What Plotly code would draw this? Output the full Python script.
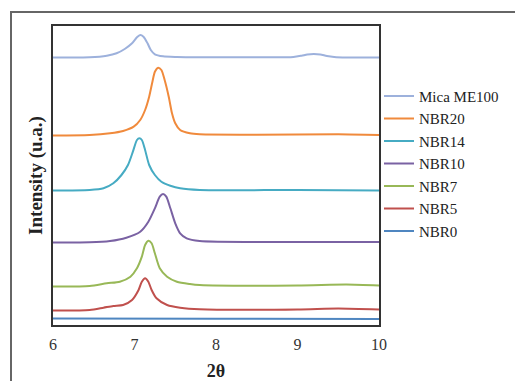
import plotly.graph_objects as go

# ---- data (2θ vs intensity, arbitrary units) ----
mica_x = [6.0, 6.3, 6.45, 6.66, 6.78, 6.88, 6.97, 7.03, 7.07, 7.11, 7.16, 7.2, 7.25, 7.35, 7.52, 7.8, 8.5, 8.95, 9.05, 9.12, 9.2, 9.28, 9.36, 9.45, 9.6, 10.0]
mica_y = [267.5, 267.5, 267.7, 269.3, 271.7, 276, 281.7, 287.7, 290, 288.3, 281.7, 275, 270.7, 268.7, 268, 267.7, 267.7, 268, 269.3, 270.5, 271, 270.5, 269, 268, 267.5, 267.5]

nbr20_x = [6.0, 6.45, 6.7, 6.86, 6.99, 7.07, 7.13, 7.18, 7.22, 7.25, 7.29, 7.33, 7.37, 7.42, 7.46, 7.5, 7.56, 7.68, 7.8, 8.5, 9.5, 10.0]
nbr20_y = [189.5, 190, 191.7, 194, 198.3, 205, 215, 228.3, 243.3, 253.3, 257.3, 255, 245, 228.3, 211.7, 201.7, 195, 191.7, 190.7, 190.3, 190.7, 190]

nbr14_x = [6.0, 6.45, 6.62, 6.74, 6.84, 6.92, 6.98, 7.03, 7.06, 7.09, 7.13, 7.18, 7.25, 7.33, 7.44, 7.56, 7.8, 9.0, 10.0]
nbr14_y = [134.5, 135, 136.7, 141.7, 150, 160, 173.3, 185, 186.7, 185, 175, 160, 150, 143.3, 139.3, 136.7, 135, 135, 134.5]

nbr10_x = [6.0, 6.45, 6.7, 6.9, 7.07, 7.17, 7.25, 7.31, 7.35, 7.39, 7.44, 7.5, 7.56, 7.64, 7.8, 9.0, 10.0]
nbr10_y = [82.5, 82.7, 84, 87.3, 93.3, 103.3, 116.7, 128.3, 131, 128.3, 116.7, 101.7, 91.7, 86.7, 84, 83, 83]

nbr7_x = [6.0, 6.45, 6.66, 6.82, 6.95, 7.03, 7.09, 7.13, 7.17, 7.21, 7.25, 7.31, 7.4, 7.52, 7.68, 7.8, 9.0, 9.6, 10.0]
nbr7_y = [38.5, 39, 41.7, 43.3, 48.3, 56.7, 68.3, 80, 84.3, 81.7, 71.7, 56.7, 48.3, 43.3, 41, 40, 39.5, 40.5, 39.5]

nbr5_x = [6.0, 6.45, 6.62, 6.74, 6.86, 6.97, 7.05, 7.09, 7.13, 7.17, 7.21, 7.27, 7.4, 7.56, 7.8, 9.0, 9.5, 10.0]
nbr5_y = [14.5, 15, 17.3, 19, 20, 25, 35, 43.3, 46.7, 43.3, 35, 26.7, 20, 17.3, 15.7, 15.5, 16.5, 15.5]

nbr0_x = [6.0, 8.0, 10.0]
nbr0_y = [6.5, 6.2, 6.0]

series = [
    ("Mica ME100", mica_x, mica_y, "#9db1dc"),
    ("NBR20", nbr20_x, nbr20_y, "#f08a3c"),
    ("NBR14", nbr14_x, nbr14_y, "#46abc3"),
    ("NBR10", nbr10_x, nbr10_y, "#7a62a3"),
    ("NBR7", nbr7_x, nbr7_y, "#98b857"),
    ("NBR5", nbr5_x, nbr5_y, "#c0504d"),
    ("NBR0", nbr0_x, nbr0_y, "#4f86c0"),
]

x_ticks = [6, 7, 8, 9, 10]

fig = go.Figure()
for name, xs, ys, col in series:
    fig.add_trace(go.Scatter(x=xs, y=ys, name=name, mode="lines",
                             line=dict(color=col, width=2, shape="spline", smoothing=0.7)))

font_family = "Liberation Serif, Times New Roman, serif"

fig.update_layout(
    width=515, height=381,
    margin=dict(l=53, r=136, t=26, b=56, autoexpand=False),
    paper_bgcolor="white", plot_bgcolor="white",
    font=dict(family=font_family, color="#333", size=15),
    showlegend=True,
    legend=dict(x=1.0, xanchor="left", y=0.82, yanchor="top",
                font=dict(family=font_family, size=15, color="#222"),
                itemwidth=30, bgcolor="rgba(0,0,0,0)"),
    xaxis=dict(range=[6, 10], tickvals=x_ticks, ticktext=[str(t) for t in x_ticks],
               showgrid=False, zeroline=False, showline=True, mirror=True,
               linecolor="#333", linewidth=2, ticks="outside", ticklen=4,
               tickcolor="rgba(0,0,0,0)", automargin=False,
               tickfont=dict(family=font_family, size=16, color="#333"),
               title=dict(text="<b>2θ</b>", standoff=16,
                          font=dict(family=font_family, size=18, color="#222"))),
    yaxis=dict(range=[0, 299], showticklabels=False, showgrid=False, zeroline=False,
               showline=True, mirror=True, linecolor="#333", linewidth=2, ticks="",
               automargin=False,
               title=dict(text="<b>Intensity (u.a.)</b>", standoff=3,
                          font=dict(family=font_family, size=19, color="#222"))),
)

# outer frame around the whole figure
fig.add_shape(type="rect", xref="paper", yref="paper",
              x0=(11 - 53) / 326, x1=1.6, y0=-0.5, y1=1 + (26 - 12) / 299,
              line=dict(color="#666", width=2), fillcolor="rgba(0,0,0,0)", layer="below")

fig.write_html("out.html", config={"displayModeBar": False},
               post_script="document.body.style.margin='0';document.body.style.overflow='hidden';")
